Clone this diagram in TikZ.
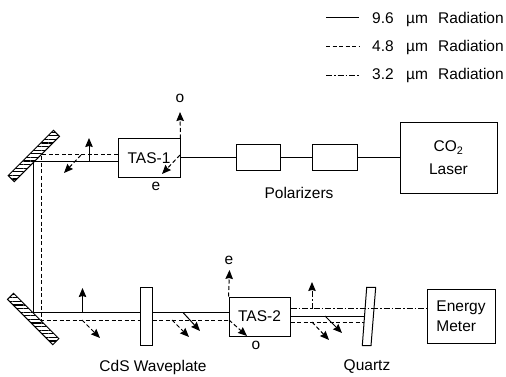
\documentclass[tikz,border=0pt]{standalone}
\usepackage{fontspec}
\setmainfont{Liberation Sans}
\usepackage{tikz}
\usetikzlibrary{positioning,arrows.meta,patterns.meta}

\tikzset{
  lbl/.style={inner sep=0pt,font=\fontsize{15.5}{18}\selectfont,align=left},
  optbox/.style={draw,line width=1pt,inner sep=0pt,font=\fontsize{15.5}{18}\selectfont,align=left},
  mirror/.style={draw,line width=1pt,inner sep=0pt,minimum width=64pt,minimum height=8.5pt,
    pattern={Lines[angle=0,distance=3.6pt,line width=1.3pt]}},
  beamA/.style={line width=1pt},
  beamB/.style={line width=1pt,dash pattern=on 4pt off 2.5pt},
  beamC/.style={line width=0.9pt,dash pattern=on 6pt off 2pt on 1.5pt off 2pt},
}

\begin{document}
\begin{tikzpicture}[x=1pt,y=-1pt,>={Stealth[length=9pt,width=7.5pt,inset=1pt]}]
\useasboundingbox (0,0) rectangle (506,377);
% legend
\coordinate (k1a) at (326,18); \coordinate (k1b) at (359,18);
\coordinate (k2a) at (326,47); \coordinate (k2b) at (359,47);
\coordinate (k3a) at (326,75); \coordinate (k3b) at (359,75);
\draw[beamA] (k1a) -- (k1b);
\draw[beamB] (k2a) -- (k2b);
\draw[beamC] (k3a) -- (k3b);
\foreach \n/\y/\v in {1/23.5/9.6,2/52/4.8,3/80/3.2}{
  \node[lbl,anchor=base west] (val\n) at (372,\y) {\v};
  \node[lbl,anchor=base west] (um\n) at (406,\y) {µm};
  \node[lbl,anchor=base west] (rad\n) at (438,\y) {Radiation};
}
% upper row
\node[mirror,rotate=45] (mir1) at (33.8,156) {};
\node[optbox,minimum width=62pt,minimum height=38pt] (tas1) at (149,158) {TAS-1};
\node[optbox,minimum width=44pt,minimum height=26pt] (pol1) at (258,157.5) {};
\node[optbox,minimum width=45pt,minimum height=26pt] (pol2) at (334.5,157.5) {};
\node[optbox,minimum width=97pt,minimum height=70pt,align=center] (laser) at (448.5,158) {CO\textsubscript{2}\\[5pt]Laser};
\node[lbl] (pollbl) at (299,193) {Polarizers};
\node[lbl] (olbl1) at (180,98) {o};
\node[lbl] (elbl1) at (156,186) {e};
% lower row
\node[mirror,rotate=-45] (mir2) at (33.2,319) {};
\node[optbox,minimum width=12pt,minimum height=58pt] (wave) at (146,316) {};
\node[optbox,minimum width=61pt,minimum height=39pt] (tas2) at (259.5,316.5) {TAS-2};
\node[optbox,minimum width=68pt,minimum height=54pt,align=left] (meter) at (461,316) {Energy\\[2pt]Meter};
\node[lbl] (wavelbl) at (153,367) {CdS Waveplate};
\node[lbl] (qzlbl) at (367,367) {Quartz};
\node[lbl] (elbl2) at (229,260) {e};
\node[lbl] (olbl2) at (256,345) {o};
% quartz plate
\draw[line width=1pt,fill=white] (366.7,287.3) -- (375.7,287.3) -- (371,345.7) -- (362.3,345.7) -- cycle;
\coordinate (qzA) at (365,316); \coordinate (qzB) at (364,322); \coordinate (qzC) at (372,308.7);
% beam corners
\coordinate (cA1) at (33,161.7); \coordinate (cB1) at (41,155);
\coordinate (cA2) at (33,312.5); \coordinate (cB2) at (41,320);
\draw[beamA] (tas1.west |- cA1) -- (cA1) -- (cA2) -- (wave.west |- cA2);
\draw[beamB] (tas1.west |- cB1) -- (cB1) -- (cB2) -- (wave.west |- cB2);
\draw[beamA] (wave.east |- cA2) -- (tas2.west |- cA2);
\draw[beamB] (wave.east |- cB2) -- (tas2.west |- cB2);
\draw[beamA] (laser.west |- pol2.east) -- (pol2.east);
\draw[beamA] (pol2.west) -- (pol1.east);
\draw[beamA] (pol1.west) -- (tas1.east |- pol1.west);
\draw[beamA] (tas2.east |- qzA) -- (qzA);
\draw[beamB] (tas2.east |- qzB) -- (qzB);
\draw[beamC] (tas2.east |- qzC) -- (qzC);
\draw[beamC] (qzC) -- (meter.west |- qzC);
% polarization arrows, upper row
\coordinate (u1) at (89,161.7); \coordinate (u1e) at (89,138);
\coordinate (d1) at (81,155); \coordinate (d1e) at (64,173);
\coordinate (d2) at (180,155); \coordinate (d2e) at (162,174);
\coordinate (o1) at (180,112);
\draw[->,beamA] (u1) -- (u1e);
\draw[->,beamB] (d1) -- (d1e);
\draw[->,beamB] (d2) -- (d2e);
\draw[->,beamB] (tas1.north east) -- (o1);
% polarization arrows, lower row
\coordinate (u2) at (82.5,312.5); \coordinate (u2e) at (82.5,288);
\coordinate (d3) at (82,320); \coordinate (d3e) at (100,338);
\coordinate (d4) at (172,320); \coordinate (d4e) at (189,337);
\coordinate (d5) at (183,312.5); \coordinate (d5e) at (200,331);
\coordinate (e2) at (229.5,270);
\coordinate (d6) at (229,320); \coordinate (d6e) at (247,336);
\draw[->,beamA] (u2) -- (u2e);
\draw[->,beamB] (d3) -- (d3e);
\draw[->,beamB] (d4) -- (d4e);
\draw[->,beamA] (d5) -- (d5e);
\draw[->,beamB] (tas2.north west) -- (e2);
\draw[->,beamB] (d6) -- (d6e);
% arrows past TAS-2
\coordinate (u3) at (312,308.7); \coordinate (u3e) at (312,282);
\coordinate (d7) at (325,316); \coordinate (d7e) at (342,333);
\coordinate (d8) at (312,322); \coordinate (d8e) at (329,340);
\draw[->,beamC] (u3) -- (u3e);
\draw[->,beamA] (d7) -- (d7e);
\draw[->,beamB] (d8) -- (d8e);
\end{tikzpicture}
\end{document}
